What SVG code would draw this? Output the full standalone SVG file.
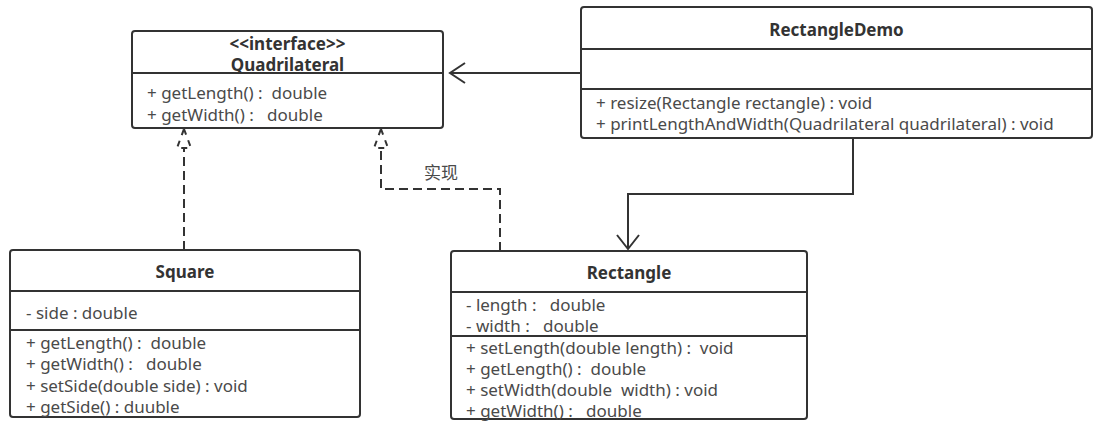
<svg xmlns="http://www.w3.org/2000/svg" width="1120" height="421" viewBox="0 0 1120 421">
<style>
.box{fill:#fff;stroke:#333;stroke-width:2}
.div{stroke:#333;stroke-width:2}
.t{font-family:"Noto Sans","Noto Sans CJK SC",sans-serif;font-size:17px;fill:#4a4a4a;white-space:pre}
.b{font-family:"Noto Sans","Noto Sans CJK SC",sans-serif;font-size:17px;font-weight:bold;fill:#333;text-anchor:middle;white-space:pre}
.ln{fill:none;stroke:#333;stroke-width:2}
.dash{fill:none;stroke:#333;stroke-width:2;stroke-dasharray:9 5}
.tri{fill:#fff;stroke:#333;stroke-width:2;stroke-dasharray:6 6}
</style>
<rect width="1120" height="421" fill="#fff"/>
<g id="connectors">
  <path class="dash" d="M184,250 V148"/>
  <path class="tri" d="M184,129 L191,148 H177 Z"/>
  <path class="dash" d="M500,251 V189 H381 V148"/>
  <path class="tri" d="M381,129 L388,148 H374 Z"/>
  <text class="t" x="424" y="179">实现</text>
  <path class="ln" d="M581,73 H450"/>
  <path class="ln" d="M465,63 L450,73 L465,83"/>
  <path class="ln" d="M853,138 V194 H628 V249"/>
  <path class="ln" d="M617,235 L628,249 L639,235"/>
</g>
<g id="Quadrilateral">
  <rect class="box" x="132" y="31" width="311" height="97" rx="3"/>
  <line class="div" x1="132" y1="73" x2="443" y2="73"/>
  <text class="b" x="287.5" y="50">&lt;&lt;interface&gt;&gt;</text>
  <text class="b" x="287.5" y="71">Quadrilateral</text>
  <text class="t" x="147" y="99">+ getLength() :  double</text>
  <text class="t" x="147" y="121">+ getWidth() :   double</text>
</g>
<g id="RectangleDemo">
  <rect class="box" x="581" y="7" width="511" height="131" rx="3"/>
  <line class="div" x1="581" y1="49" x2="1092" y2="49"/>
  <line class="div" x1="581" y1="89" x2="1092" y2="89"/>
  <text class="b" x="836.5" y="36">RectangleDemo</text>
  <text class="t" x="596" y="109">+ resize(Rectangle rectangle) : void</text>
  <text class="t" x="596" y="130">+ printLengthAndWidth(Quadrilateral quadrilateral) : void</text>
</g>
<g id="Square">
  <rect class="box" x="10" y="250" width="350" height="167" rx="3"/>
  <line class="div" x1="10" y1="291" x2="360" y2="291"/>
  <line class="div" x1="10" y1="330" x2="360" y2="330"/>
  <text class="b" x="185" y="278">Square</text>
  <text class="t" x="26" y="319">- side : double</text>
  <text class="t" x="26" y="349">+ getLength() :  double</text>
  <text class="t" x="26" y="370">+ getWidth() :   double</text>
  <text class="t" x="26" y="392">+ setSide(double side) : void</text>
  <text class="t" x="26" y="413">+ getSide() : duuble</text>
</g>
<g id="Rectangle">
  <rect class="box" x="451" y="251" width="356" height="168" rx="3"/>
  <line class="div" x1="451" y1="292" x2="807" y2="292"/>
  <line class="div" x1="451" y1="336" x2="807" y2="336"/>
  <text class="b" x="629" y="279">Rectangle</text>
  <text class="t" x="466" y="311">- length :   double</text>
  <text class="t" x="466" y="332">- width :   double</text>
  <text class="t" x="466" y="354">+ setLength(double length) :  void</text>
  <text class="t" x="466" y="375">+ getLength() :  double</text>
  <text class="t" x="466" y="396">+ setWidth(double  width) : void</text>
  <text class="t" x="466" y="417">+ getWidth() :   double</text>
</g>
</svg>
